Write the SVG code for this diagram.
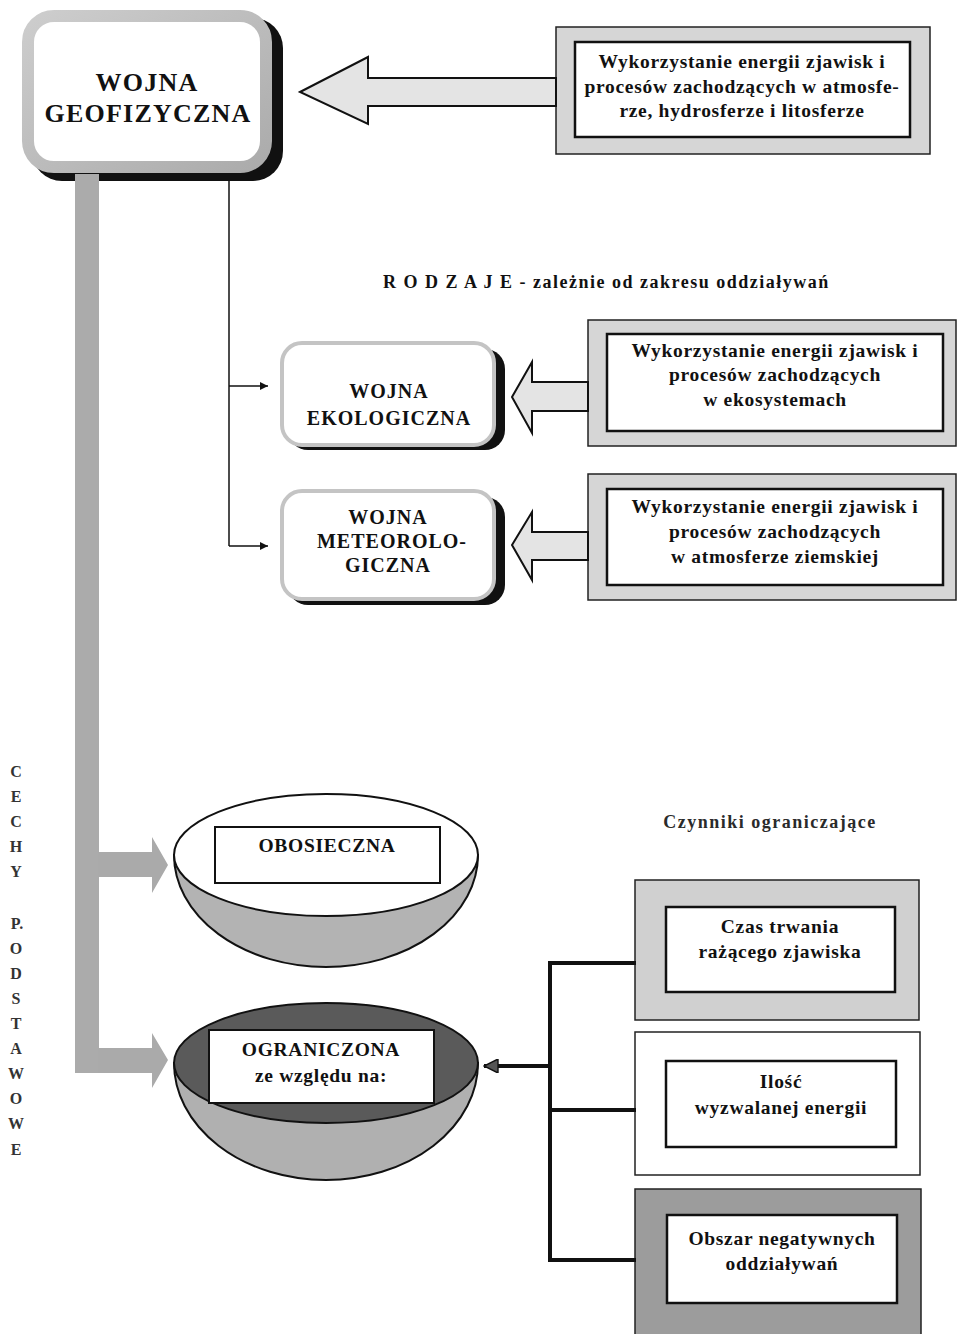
<svg xmlns="http://www.w3.org/2000/svg" width="957" height="1334" viewBox="0 0 957 1334">
<defs>
<style>
.t{font-family:"Liberation Serif","Times New Roman",serif;font-weight:bold;fill:#111;text-anchor:middle}
.s19{font-size:19.5px;letter-spacing:0.7px}
.s20{font-size:20px;letter-spacing:1px}
.frame{fill:#d6d6d6;stroke:#222;stroke-width:1.5}
.inner{fill:#fff;stroke:#111;stroke-width:2.5}
.harrow{fill:#e4e4e4;stroke:#111;stroke-width:2}
.garrow{fill:#aaaaaa}
.thin{fill:none;stroke:#111;stroke-width:1.5}
.thick{fill:none;stroke:#111;stroke-width:4}
.side{font-family:"Liberation Serif","Times New Roman",serif;font-weight:bold;font-size:16px;fill:#333;text-anchor:middle}
</style>
<marker id="ah" viewBox="0 0 10 10" refX="10" refY="5" markerWidth="8" markerHeight="8" markerUnits="userSpaceOnUse" orient="auto">
<path d="M0,0 L10,5 L0,10 Z" fill="#111"/>
</marker>
<marker id="ah2" viewBox="0 0 10 10" refX="10" refY="5" markerWidth="16" markerHeight="14" markerUnits="userSpaceOnUse" orient="auto">
<path d="M0,0 L10,5 L0,10 Z" fill="#555" stroke="#111" stroke-width="1"/>
</marker>
<linearGradient id="gb" x1="0" y1="0" x2="1" y2="1">
<stop offset="0" stop-color="#cdcdcd"/>
<stop offset="1" stop-color="#ababab"/>
</linearGradient>
</defs>

<!-- vertical gray bar with side arrows -->
<g id="cechy-bar">
<rect x="75" y="170" width="24" height="903" fill="#ababab"/>
<polygon class="garrow" points="98,852 152,852 152,837 168,865 152,893 152,877 98,877"/>
<polygon class="garrow" points="98,1048 152,1048 152,1033 168,1060 152,1088 152,1073 98,1073"/>
</g>

<!-- main node -->
<g id="wojna-geofizyczna">
<rect x="32" y="18" width="251" height="163" rx="30" fill="#111"/>
<rect x="28" y="16" width="238" height="151" rx="26" fill="#fff" stroke="url(#gb)" stroke-width="12"/>
<rect x="75" y="174" width="24" height="10" fill="#ababab"/>
<text class="t" x="147" y="91" style="font-size:26px;letter-spacing:1.2px">WOJNA</text>
<text class="t" x="148" y="122" style="font-size:26px;letter-spacing:1.2px">GEOFIZYCZNA</text>
</g>

<!-- top description box -->
<g id="opis-geofizyczna">
<rect class="frame" x="556" y="27" width="374" height="127"/>
<rect class="inner" x="575" y="42" width="335" height="95"/>
<text class="t s19" x="742" y="68">Wykorzystanie energii zjawisk i</text>
<text class="t s19" x="742" y="93">procesów zachodzących w atmosfe-</text>
<text class="t s19" x="742" y="117">rze, hydrosferze i litosferze</text>
</g>

<!-- heading -->
<g id="rodzaje">
<text class="t" x="383" y="288" style="font-size:18px;letter-spacing:1.5px;text-anchor:start">R O D Z A J E - zależnie od zakresu oddziaływań</text>
</g>

<!-- ecological node -->
<g id="wojna-ekologiczna">
<rect x="288" y="349" width="217" height="101" rx="20" fill="#111"/>
<rect x="282" y="343" width="212" height="102" rx="20" fill="#fff" stroke="#c4c4c4" stroke-width="4"/>
<text class="t s20" x="389" y="398">WOJNA</text>
<text class="t s20" x="389" y="425">EKOLOGICZNA</text>
</g>

<g id="opis-ekologiczna">
<rect class="frame" x="588" y="320" width="368" height="126"/>
<rect class="inner" x="607" y="334" width="336" height="97"/>
<text class="t s19" x="775" y="357">Wykorzystanie energii zjawisk i</text>
<text class="t s19" x="775" y="381">procesów zachodzących</text>
<text class="t s19" x="775" y="406">w ekosystemach</text>
</g>

<!-- meteorological node -->
<g id="wojna-meteorologiczna">
<rect x="288" y="497" width="217" height="108" rx="20" fill="#111"/>
<rect x="282" y="491" width="212" height="108" rx="20" fill="#fff" stroke="#c4c4c4" stroke-width="4"/>
<text class="t s20" x="388" y="524">WOJNA</text>
<text class="t s20" x="392" y="548">METEOROLO-</text>
<text class="t s20" x="388" y="572">GICZNA</text>
</g>

<g id="opis-meteorologiczna">
<rect class="frame" x="588" y="474" width="368" height="126"/>
<rect class="inner" x="607" y="489" width="336" height="96"/>
<text class="t s19" x="775" y="513">Wykorzystanie energii zjawisk i</text>
<text class="t s19" x="775" y="538">procesów zachodzących</text>
<text class="t s19" x="775" y="563">w atmosferze ziemskiej</text>
</g>

<!-- side label -->
<g id="cechy-podstawowe">
<text class="side" x="16" y="777">C</text>
<text class="side" x="16" y="802">E</text>
<text class="side" x="16" y="827">C</text>
<text class="side" x="16" y="852">H</text>
<text class="side" x="16" y="877">Y</text>
<text class="side" x="17" y="929">P.</text>
<text class="side" x="16" y="954">O</text>
<text class="side" x="16" y="979">D</text>
<text class="side" x="16" y="1004">S</text>
<text class="side" x="16" y="1029">T</text>
<text class="side" x="16" y="1054">A</text>
<text class="side" x="16" y="1079">W</text>
<text class="side" x="16" y="1104">O</text>
<text class="side" x="16" y="1129">W</text>
<text class="side" x="16" y="1155">E</text>
</g>

<!-- bowls -->
<g id="obosieczna">
<path d="M174,855 A152,112 0 0 0 478,855 Z" fill="#b3b3b3" stroke="#111" stroke-width="2"/>
<ellipse cx="326" cy="855" rx="152" ry="61" fill="#fff" stroke="#111" stroke-width="2"/>
<rect x="215" y="827" width="225" height="56" fill="#fff" stroke="#111" stroke-width="2"/>
<text class="t s19" x="327" y="852">OBOSIECZNA</text>
</g>

<g id="ograniczona">
<path d="M174,1063 A152,117 0 0 0 478,1063 Z" fill="#b0b0b0" stroke="#111" stroke-width="2"/>
<ellipse cx="326" cy="1063" rx="152" ry="60" fill="#5a5a5a" stroke="#111" stroke-width="2"/>
<rect x="209" y="1030" width="225" height="73" fill="#fff" stroke="#111" stroke-width="2"/>
<text class="t s19" x="321" y="1056">OGRANICZONA</text>
<text class="t s19" x="321" y="1082">ze względu na:</text>
</g>

<g id="czynniki">
<text class="t" x="770" y="828" style="font-size:18px;letter-spacing:1.5px;fill:#2a2a2a">Czynniki ograniczające</text>
</g>

<g id="czas-trwania">
<rect x="635" y="880" width="284" height="140" fill="#d0d0d0" stroke="#222" stroke-width="1.5"/>
<rect class="inner" x="666" y="907" width="229" height="85"/>
<text class="t s19" x="780" y="933">Czas trwania</text>
<text class="t s19" x="780" y="958">rażącego zjawiska</text>
</g>

<g id="ilosc-energii">
<rect x="635" y="1032" width="285" height="143" fill="#fff" stroke="#222" stroke-width="1.5"/>
<rect class="inner" x="666" y="1061" width="230" height="86"/>
<text class="t s19" x="781" y="1088">Ilość</text>
<text class="t s19" x="781" y="1114">wyzwalanej energii</text>
</g>

<g id="obszar">
<rect x="635" y="1189" width="286" height="150" fill="#9c9c9c" stroke="#222" stroke-width="1.5"/>
<rect class="inner" x="667" y="1215" width="230" height="88"/>
<text class="t s19" x="782" y="1245">Obszar negatywnych</text>
<text class="t s19" x="782" y="1270">oddziaływań</text>
</g>

<!-- connectors -->
<g id="connectors">
<polygon class="harrow" points="300,92 368,57 368,78 556,78 556,106 368,106 368,124"/>
<polygon class="harrow" points="512,397 532,362 532,382 588,382 588,411 532,411 532,433"/>
<polygon class="harrow" points="512,545 532,512 532,532 588,532 588,560 532,560 532,580"/>
<path class="thin" d="M229,181 V546"/>
<path class="thin" d="M229,386 H268" marker-end="url(#ah)"/>
<path class="thin" d="M229,546 H268" marker-end="url(#ah)"/>
<path class="thick" d="M636,963 H550 V1260 H636"/>
<path class="thick" d="M550,1110 H636"/>
<path class="thick" d="M550,1066 H484" marker-end="url(#ah2)"/>
</g>
</svg>
